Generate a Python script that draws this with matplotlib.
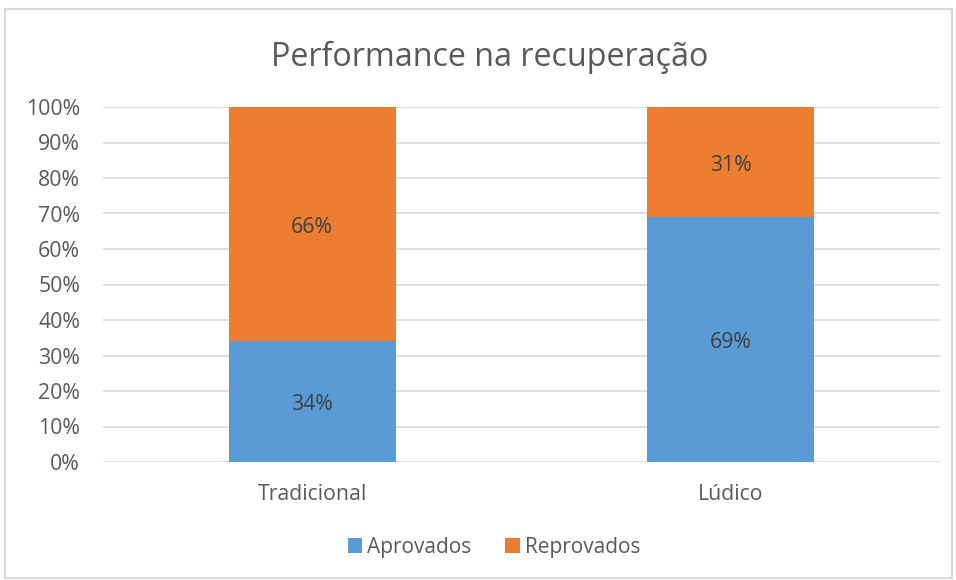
import matplotlib
matplotlib.use("Agg")
import matplotlib.pyplot as plt
from matplotlib.patches import Rectangle
from matplotlib.ticker import FuncFormatter

categories = ["Tradicional", "Lúdico"]
aprovados = [34, 69]
reprovados = [66, 31]
series_names = ["Aprovados", "Reprovados"]
title = "Performance na recuperação"

plt.rcParams['font.family'] = ['Open Sans', 'DejaVu Sans']

W, H = 956, 580
fig = plt.figure(figsize=(W / 100, H / 100), dpi=100)
fig.patch.set_facecolor("white")

# chart border
fig.patches.append(Rectangle((5 / W, 1 - 578 / H), (952 - 5) / W, (578 - 9) / H,
                             transform=fig.transFigure, fill=False,
                             edgecolor="#D9D9D9", linewidth=1.5))

left, right = 103 / W, 940 / W
bottom, top = 1 - 462 / H, 1 - 107 / H
ax = fig.add_axes([left, bottom, right - left, top - bottom])

blue = "#5B9BD5"
orange = "#ED7D31"
x = list(range(len(categories)))
ax.bar(x, aprovados, width=0.4, color=blue, label=series_names[0], zorder=3)
ax.bar(x, reprovados, width=0.4, bottom=aprovados, color=orange, label=series_names[1], zorder=3)

lab_fs = 15.3
for i in x:
    ax.annotate(f"{aprovados[i]}%", (i, aprovados[i] / 2), xytext=(0, -2.2),
                textcoords="offset points", ha="center", va="center",
                fontsize=lab_fs, color="#404040", zorder=4)
    ax.annotate(f"{reprovados[i]}%", (i, aprovados[i] + reprovados[i] / 2), xytext=(0, -2.2),
                textcoords="offset points", ha="center", va="center",
                fontsize=lab_fs, color="#404040", zorder=4)

ax.set_xlim(-0.5, len(categories) - 0.5)
ax.set_ylim(0, 100)
ax.set_yticks(range(0, 101, 10))
ax.yaxis.set_major_formatter(FuncFormatter(lambda v, p: f"{int(v)}%"))
ax.set_xticks(x)
ax.set_xticklabels(categories)
ax.tick_params(axis="both", length=0, labelsize=lab_fs, labelcolor="#595959")
ax.tick_params(axis="y", pad=16.5)
ax.tick_params(axis="x", pad=15.5)
ax.grid(axis="y", color="#D9D9D9", linewidth=1.2, zorder=0)
for s in ax.spines.values():
    s.set_visible(False)

fig.text(490 / W, 1 - 57.5 / H, title, ha="center", va="center", fontsize=23.2, color="#595959")

fig.legend(loc="center", bbox_to_anchor=(494 / W, 1 - 547 / H), ncol=2, frameon=False,
           fontsize=15, labelcolor="#595959", handlelength=0.7, handleheight=0.7,
           handletextpad=0.25, columnspacing=1.6)

fig.savefig("out.png", dpi=100)
